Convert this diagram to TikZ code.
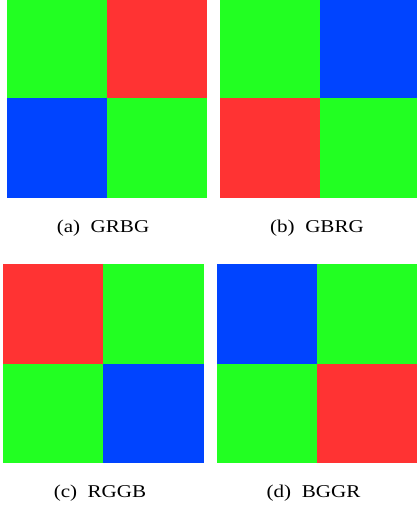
\documentclass[tikz,border=0pt]{standalone}
\usepackage{fontspec}
\setmainfont{Liberation Serif}
\definecolor{bg}{RGB}{34,255,34}
\definecolor{br}{RGB}{255,51,51}
\definecolor{bb}{RGB}{0,68,255}
\newcommand{\caplab}[2]{\scalebox{1.17}[1]{#1\enspace #2}}
\begin{document}
\begin{tikzpicture}[x=1pt,y=-1pt,
  lab/.style={inner sep=0pt,anchor=base,font=\fontsize{18}{20}\selectfont}]
\useasboundingbox (0,0) rectangle (417,505);
% (a) GRBG
\fill[bg] (7,0) rectangle (107,98);
\fill[br] (107,0) rectangle (207,98);
\fill[bb] (7,98) rectangle (107,198);
\fill[bg] (107,98) rectangle (207,198);
% (b) GBRG
\fill[bg] (220,0) rectangle (320,98);
\fill[bb] (320,0) rectangle (417,98);
\fill[br] (220,98) rectangle (320,198);
\fill[bg] (320,98) rectangle (417,198);
% (c) RGGB
\fill[br] (3,264) rectangle (103,364);
\fill[bg] (103,264) rectangle (204,364);
\fill[bg] (3,364) rectangle (103,463);
\fill[bb] (103,364) rectangle (204,463);
% (d) BGGR
\fill[bb] (217,264) rectangle (317,364);
\fill[bg] (317,264) rectangle (417,364);
\fill[bg] (217,364) rectangle (317,463);
\fill[br] (317,364) rectangle (417,463);
% captions
\node[lab] (la) at (103,232) {\caplab{(a)}{GRBG}};
\node[lab] (lb) at (317,232) {\caplab{(b)}{GBRG}};
\node[lab] (lc) at (100,497) {\caplab{(c)}{RGGB}};
\node[lab] (ld) at (313.5,497) {\caplab{(d)}{BGGR}};
\end{tikzpicture}
\end{document}
